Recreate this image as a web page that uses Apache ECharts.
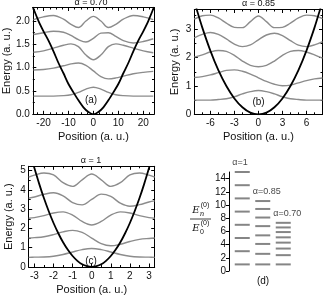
<!DOCTYPE html>
<html><head><meta charset="utf-8">
<script src="https://cdn.jsdelivr.net/npm/echarts@6/dist/echarts.min.js"></script>
<style>html,body{margin:0;padding:0;background:#fff}#c{width:323px;height:296px}</style>
</head><body><div id="c"></div>
<script>
// ---------- data ----------
// panel (a) alpha = 0.70
const aX = [-24,-20,-16,-12,-9,-6,-3,0,3,6,9,12,16,20,24];
const a0 = [0.39,0.39,0.39,0.40,0.42,0.47,0.54,0.58,0.54,0.47,0.42,0.40,0.39,0.39,0.39];
const a1 = [0.95,0.96,0.99,1.04,1.08,1.10,1.05,0.93,0.81,0.76,0.78,0.82,0.87,0.90,0.92];
const a2 = [1.33,1.36,1.42,1.48,1.51,1.45,1.27,1.17,1.27,1.45,1.51,1.48,1.42,1.36,1.32];
const a3 = [1.71,1.75,1.78,1.76,1.69,1.60,1.55,1.63,1.74,1.75,1.67,1.58,1.53,1.56,1.62];
const a4 = [2.03,2.09,2.12,2.04,1.93,1.86,2.00,2.10,2.00,1.86,1.93,2.04,2.12,2.09,2.03];
const aPotX = [-24.3,-22,-20,-18,-16,-14,-12,-10,-8,-6,-4,-2,0,2,4,6,8,10,12,14,16,18,20,22,24.3];
const aPotY = [2.30,2.00,1.78,1.58,1.35,1.10,0.88,0.65,0.47,0.30,0.15,0.05,0,0.05,0.15,0.30,0.47,0.65,0.88,1.10,1.35,1.58,1.78,2.00,2.30];
const aXTicks = [-20,-10,0,10,20];
const aYTicks = [0,0.5,1.0,1.5,2.0];

// panel (b) alpha = 0.85
const bX = [-8,-7,-6,-5,-4,-3,-2,-1,0,1,2,3,4,5,6,7,8];
const b0 = [0.50,0.50,0.50,0.52,0.55,0.62,0.72,0.80,0.84,0.80,0.72,0.62,0.55,0.52,0.50,0.50,0.50];
const b1 = [1.30,1.33,1.39,1.47,1.55,1.57,1.52,1.42,1.29,1.16,1.06,1.01,1.03,1.11,1.19,1.25,1.28];
const b2 = [2.02,2.10,2.20,2.25,2.22,2.08,1.88,1.73,1.68,1.73,1.88,2.08,2.22,2.25,2.20,2.10,1.98];
const b3 = [2.70,2.82,2.89,2.82,2.66,2.48,2.39,2.45,2.63,2.80,2.86,2.78,2.60,2.44,2.39,2.45,2.57];
const b4 = [3.36,3.48,3.50,3.40,3.22,3.07,3.06,3.27,3.47,3.27,3.06,3.07,3.22,3.40,3.50,3.48,3.38];
const bPotX = [-7.75,-7,-6,-5,-4,-3,-2,-1,0,1,2,3,4,5,6,7,7.75];
const bPotY = [3.75,3.06,2.25,1.56,1.00,0.56,0.25,0.06,0,0.06,0.25,0.56,1.00,1.56,2.25,3.06,3.75];
const bXTicks = [-6,-3,0,3,6];
const bYTicks = [0,1,2,3];

// panel (c) alpha = 1
const cX = [-3.3,-3,-2.5,-2,-1.5,-1,-0.5,0,0.5,1,1.5,2,2.5,3,3.3];
const c0 = [0.50,0.51,0.52,0.56,0.65,0.78,0.90,0.96,0.90,0.78,0.65,0.56,0.52,0.51,0.50];
const c1 = [1.50,1.52,1.57,1.68,1.82,1.90,1.79,1.50,1.21,1.10,1.18,1.32,1.43,1.48,1.50];
const c2 = [2.53,2.56,2.66,2.80,2.86,2.69,2.36,2.18,2.36,2.69,2.86,2.80,2.66,2.56,2.53];
const c3 = [3.57,3.63,3.77,3.85,3.69,3.34,3.22,3.50,3.78,3.66,3.31,3.15,3.23,3.37,3.43];
const c4 = [4.66,4.76,4.87,4.77,4.37,4.18,4.52,4.82,4.52,4.18,4.37,4.77,4.87,4.76,4.66];
const cPotX = [-3.03,-2.75,-2.5,-2.25,-2,-1.75,-1.5,-1.25,-1,-0.75,-0.5,-0.25,0,0.25,0.5,0.75,1,1.25,1.5,1.75,2,2.25,2.5,2.75,3.03];
const cPotY = [5.22,4.31,3.56,2.89,2.28,1.75,1.28,0.89,0.57,0.32,0.14,0.04,0,0.04,0.14,0.32,0.57,0.89,1.28,1.75,2.28,2.89,3.56,4.31,5.22];
const cXTicks = [-3,-2,-1,0,1,2,3];
const cYTicks = [0,1,2,3,4,5];

// panel (d) normalised energies E_n/E_0
const dCats = ['α=1','α=0.85','α=0.70'];
const d100 = [1,3,5,7,9,11,13,15];
const d085 = [1,2.6,4.1,5.4,6.8,8.1,9.4,10.6];
const d070 = [1,2.4,3.4,4.3,5.1,5.9,6.6,7.3];
const dYTicks = [0,2,4,6,8,10,12,14];

// ---------- helpers ----------
const FONT = 'Liberation Sans';
const zip = (xs, ys) => xs.map((x, i) => [x, ys[i]]);
const steps = (lo, hi, st) => { const r = []; for (let v = Math.ceil(lo / st - 1e-9) * st; v <= hi + 1e-9; v += st) r.push(+v.toFixed(4)); return r; };

const xAxes = [], yAxes = [], series = [];

function axisSet(list, dim, grid, min, max, major, minorStep, fmt, name, nameGap) {
  const base = list.length;
  const minor = steps(min, max, minorStep).filter(v => !major.some(m => Math.abs(m - v) < 1e-6));
  const pos = dim === 'x' ? ['bottom', 'top'] : ['left', 'right'];
  pos.forEach((p, k) => {
    list.push({
      type: 'value', gridIndex: grid, min, max, position: p,
      axisLine: { show: true, onZero: false, lineStyle: { color: '#000', width: 1 } },
      axisTick: { show: true, inside: true, length: 3.5, customValues: major, lineStyle: { color: '#000', width: 1 } },
      axisLabel: k === 0 ? { show: true, customValues: major, formatter: fmt, fontSize: 10, color: '#111', fontFamily: FONT, margin: dim === 'x' ? 4 : 3 } : { show: false },
      splitLine: { show: false },
      name: k === 0 ? name : '',
      nameLocation: 'middle', nameGap: nameGap,
      nameTextStyle: { fontSize: 11, color: '#111', fontFamily: FONT }
    });
    list.push({
      type: 'value', gridIndex: grid, min, max, position: p,
      axisLine: { show: false, onZero: false },
      axisTick: { show: true, inside: true, length: 2, customValues: minor, lineStyle: { color: '#000', width: 1 } },
      axisLabel: { show: false }, splitLine: { show: false }
    });
  });
  return base;
}

const grids = [
  { left: 28, top: 7.5, width: 126, height: 106.8 },
  { left: 194.3, top: 9.5, width: 128.2, height: 104.8 },
  { left: 28.7, top: 166.3, width: 126, height: 104.4 },
  { left: 232, top: 172, width: 61.5, height: 99 }
];

function panel(grid, xr, yr, xt, yt, xm, ym, yfmt, curves, potX, potY, xs, yGap) {
  const xi = axisSet(xAxes, 'x', grid, xr[0], xr[1], xt, xm, v => String(v), 'Position (a. u.)', 17);
  const yi = axisSet(yAxes, 'y', grid, yr[0], yr[1], yt, ym, yfmt, 'Energy (a. u.)', yGap);
  curves.forEach(c => series.push({
    type: 'line', xAxisIndex: xi, yAxisIndex: yi, data: zip(xs, c), smooth: 0.35,
    showSymbol: false, symbol: 'none', lineStyle: { color: '#8c8c8c', width: 1.4 }, silent: true, clip: true
  }));
  series.push({
    type: 'line', xAxisIndex: xi, yAxisIndex: yi, data: zip(potX, potY), smooth: 0.3,
    showSymbol: false, symbol: 'none', lineStyle: { color: '#000', width: 1.8 }, silent: true, clip: true
  });
}

panel(0, [-24.3, 24.3], [0, 2.29], aXTicks, aYTicks, 2.5, 0.25, v => v.toFixed(1), [a0, a1, a2, a3, a4], aPotX, aPotY, aX, 20);
panel(1, [-8, 8], [0, 3.7], bXTicks, bYTicks, 1, 0.5, v => String(v), [b0, b1, b2, b3, b4], bPotX, bPotY, bX, 14);
panel(2, [-3.3, 3.3], [0, 5.22], cXTicks, cYTicks, 0.5, 0.5, v => String(v), [c0, c1, c2, c3, c4], cPotX, cPotY, cX, 14);

// panel (d)
const dxi = xAxes.length;
xAxes.push({ type: 'category', gridIndex: 3, data: dCats, show: false });
const dyi = yAxes.length;
yAxes.push({
  type: 'value', gridIndex: 3, min: 0, max: 15, position: 'left', offset: 3,
  axisLine: { show: true, lineStyle: { color: '#000', width: 1 } },
  axisTick: { show: true, inside: false, length: 3, customValues: dYTicks, lineStyle: { color: '#000' } },
  axisLabel: { show: true, customValues: dYTicks, fontSize: 10, color: '#111', fontFamily: FONT, margin: 3 },
  splitLine: { show: false }
});
yAxes.push({
  type: 'value', gridIndex: 3, min: 0, max: 15, position: 'left', offset: 3,
  axisLine: { show: false },
  axisTick: { show: true, inside: false, length: 2, customValues: steps(1, 15, 2), lineStyle: { color: '#000' } },
  axisLabel: { show: false }, splitLine: { show: false }
});
[d100, d085, d070].forEach((arr, k) => {
  const top = Math.max(...arr);
  series.push({
    type: 'scatter', xAxisIndex: dxi, yAxisIndex: dyi, symbol: 'rect', symbolSize: [15, 2],
    itemStyle: { color: '#666' }, silent: true,
    data: arr.map(v => ({
      value: [k, v],
      label: v === top ? { show: true, position: 'top', distance: 4, align: 'left', offset: [-10, 0], formatter: dCats[k], fontSize: 9, color: '#111', fontFamily: FONT } : { show: false }
    }))
  });
});

const txt = (t, x, y, size, extra) => ({
  type: 'text', x, y, silent: true,
  style: Object.assign({ text: t, fill: '#111', font: size + 'px ' + FONT, textAlign: 'center', align: 'center', textVerticalAlign: 'middle', verticalAlign: 'middle' }, extra || {})
});

const option = {
  animation: false,
  backgroundColor: '#fff',
  grid: grids,
  xAxis: xAxes,
  yAxis: yAxes,
  series,
  graphic: [
    txt('α = 0.70', 91, 3, 9),
    txt('α = 0.85', 258.5, 4, 9),
    txt('α = 1', 91, 161, 9),
    txt('(a)', 91, 100, 10),
    txt('(b)', 258.5, 102, 10),
    txt('(c)', 91, 261, 10),
    txt('(d)', 263, 281, 10),
    txt('E', 196, 210, 10, { font: 'italic 10px DejaVu Serif' }),
    txt('n', 202, 214, 7, { font: 'italic 7px DejaVu Serif' }),
    txt('(0)', 205, 205, 7),
    { type: 'line', silent: true, shape: { x1: 190, y1: 219, x2: 211, y2: 219 }, style: { stroke: '#111', lineWidth: 0.8 } },
    txt('E', 196, 228, 10, { font: 'italic 10px DejaVu Serif' }),
    txt('0', 202, 232, 7),
    txt('(0)', 205, 223, 7)
  ]
};
echarts.init(document.getElementById('c'), null, { renderer: 'canvas' }).setOption(option);
</script></body></html>
